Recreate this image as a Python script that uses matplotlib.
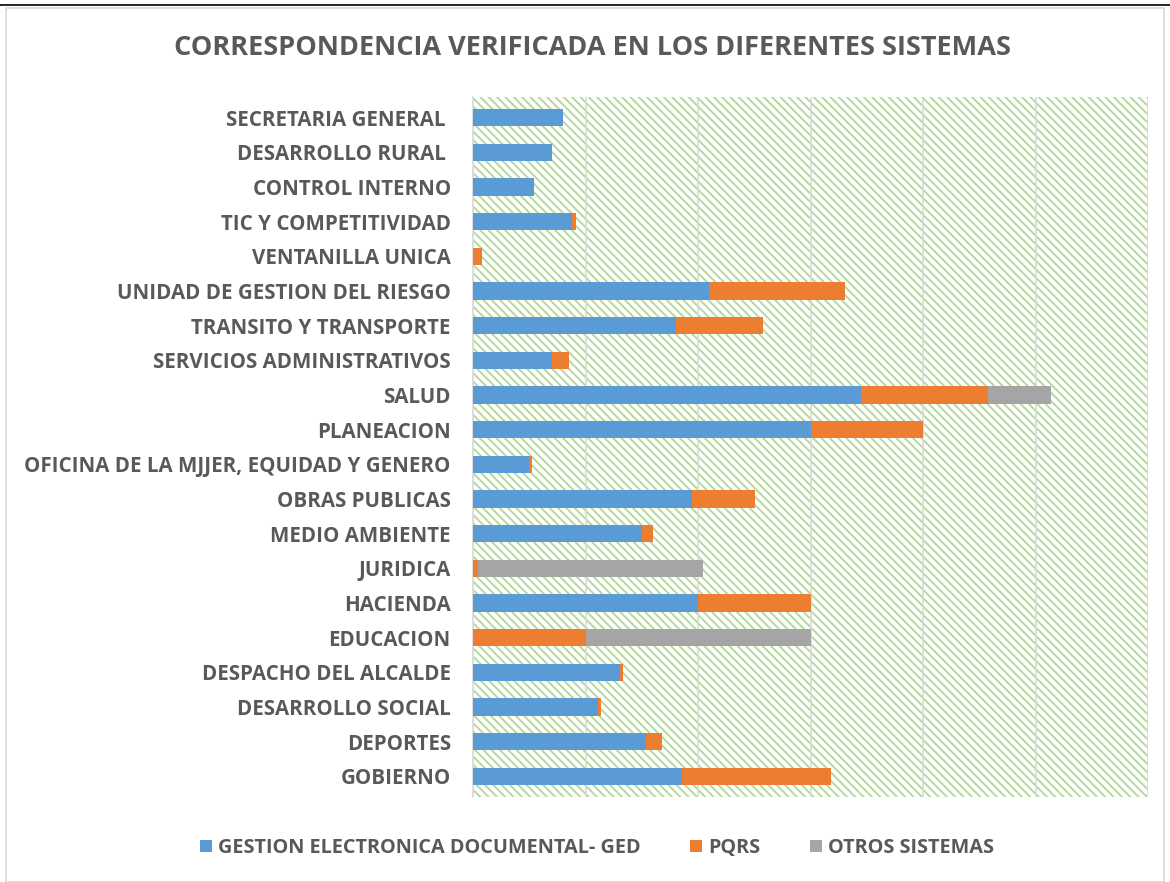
import matplotlib.pyplot as plt
import numpy as np
from matplotlib.patches import Rectangle
from matplotlib.lines import Line2D

# Datos (de abajo hacia arriba)
dependencias = ['GOBIERNO', 'DEPORTES', 'DESARROLLO SOCIAL', 'DESPACHO DEL ALCALDE',
                'EDUCACION', 'HACIENDA', 'JURIDICA', 'MEDIO AMBIENTE', 'OBRAS PUBLICAS',
                'OFICINA DE LA MJJER, EQUIDAD Y GENERO', 'PLANEACION', 'SALUD',
                'SERVICIOS ADMINISTRATIVOS', 'TRANSITO Y TRANSPORTE',
                'UNIDAD DE GESTION DEL RIESGO', 'VENTANILLA UNICA', 'TIC Y COMPETITIVIDAD',
                'CONTROL INTERNO', 'DESARROLLO RURAL ', 'SECRETARIA GENERAL ']
ged = [186, 154, 111, 131, 0, 200, 0, 150, 195, 50, 300, 345, 70, 180, 210, 0, 88, 54, 70, 80]
pqrs = [132, 14, 3, 2, 100, 100, 4, 10, 56, 2, 100, 113, 15, 78, 121, 8, 3.5, 0, 0, 0]
otros = [0, 0, 0, 0, 200, 0, 200, 0, 0, 0, 0, 56, 0, 0, 0, 0, 0, 0, 0, 0]
series = ['GESTION ELECTRONICA DOCUMENTAL- GED', 'PQRS', 'OTROS SISTEMAS']
colores = ['#5B9BD5', '#ED7D31', '#A5A5A5']

gris = '#595959'
plt.rcParams['font.family'] = ['Open Sans', 'DejaVu Sans']
plt.rcParams['hatch.linewidth'] = 1.4
plt.rcParams['hatch.color'] = '#b5d99c'

fig = plt.figure(figsize=(11.7, 8.82), dpi=100)
ax = fig.add_axes([473 / 1170, 1 - 797 / 882, 675 / 1170, 700 / 882])

# Fondo rayado
ax.add_patch(Rectangle((0, 0), 1, 1, transform=ax.transAxes, facecolor='white',
                       edgecolor='#b5d99c', hatch='\\\\\\\\', linewidth=0, zorder=0))

y = np.arange(len(dependencias))
izq = np.zeros(len(dependencias))
for vals, nombre, c in zip([ged, pqrs, otros], series, colores):
    ax.barh(y, vals, left=izq, height=0.5, color=c, label=nombre, zorder=3)
    izq += np.array(vals)

ax.set_xlim(0, 600)
ax.set_ylim(-0.6, len(dependencias) - 0.4)
ax.set_xticks(np.arange(0, 601, 100))
ax.set_xticklabels([])
ax.tick_params(axis='x', length=0)
ax.grid(axis='x', color='#d9d9d9', linewidth=1.2, zorder=1)
ax.set_axisbelow(True)
ax.set_yticks(y)
ax.set_yticklabels(dependencias, fontsize=14.8, fontweight='bold', color=gris)
ax.tick_params(axis='y', length=0, pad=16)
for s in ['top', 'right', 'bottom']:
    ax.spines[s].set_visible(False)
ax.spines['left'].set_color('#d9d9d9')
ax.spines['left'].set_linewidth(1.2)

fig.text(593 / 1170, 1 - 48 / 882, 'CORRESPONDENCIA VERIFICADA EN LOS DIFERENTES SISTEMAS',
         ha='center', va='center', fontsize=19.5, fontweight='bold', color=gris)

fig.legend(loc='center', bbox_to_anchor=(597 / 1170, 1 - 848 / 882), ncol=3, frameon=False,
           prop={'size': 14.3, 'weight': 'bold'}, labelcolor=gris, handlelength=0.6,
           handleheight=0.6, handletextpad=0.3, columnspacing=2.5)

# Marco
fig.add_artist(Rectangle((6 / 1170, 0.0), 1158 / 1170, 1 - 8 / 882, transform=fig.transFigure,
                         fill=False, edgecolor='#d9d9d9', linewidth=1.2))
fig.add_artist(Line2D([0, 1], [1 - 5 / 882, 1 - 5 / 882], transform=fig.transFigure,
                      color='black', linewidth=1.2))

fig.savefig('out.png', dpi=100)
